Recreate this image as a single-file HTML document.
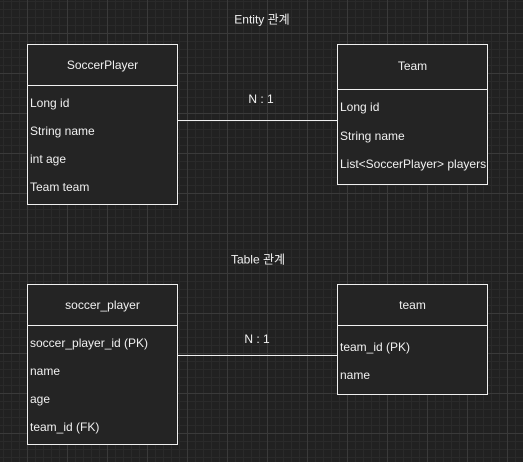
<!DOCTYPE html>
<html><head><meta charset="utf-8"><style>
html,body{margin:0;padding:0}
body{width:523px;height:462px;overflow:hidden;position:relative;background-color:#212121;
background-image:
linear-gradient(#3a3a3a 1px,transparent 1px),
linear-gradient(90deg,#3a3a3a 1px,transparent 1px),
linear-gradient(#2a2a2a 1px,transparent 1px),
linear-gradient(90deg,#2a2a2a 1px,transparent 1px);
background-size:40px 40px,40px 40px,8px 8px,8px 8px;
background-position:27px 33px,27px 33px,3px 1px,3px 1px;
font-family:"Liberation Sans","Noto Sans CJK KR",sans-serif;font-size:12px;color:#f0f0f0}
.box{position:absolute;background:#242424;border:1px solid #f0f0f0;box-sizing:border-box}
.hd{position:absolute;left:0;right:0;top:0;border-bottom:1px solid #f0f0f0;text-align:center}
.f{position:absolute;left:2px;white-space:nowrap}
.t{position:absolute;white-space:nowrap;transform:translate(-50%,-50%)}
.ln{position:absolute;height:1px;background:#f0f0f0}
</style></head><body>
<div class="t" style="left:262px;top:19px">Entity 관계</div>
<div class="t" style="left:258px;top:259px">Table 관계</div>

<div class="ln" style="left:177px;width:160px;top:120px"></div>
<div class="t" style="left:261px;top:99px">N : 1</div>
<div class="ln" style="left:177px;width:160px;top:355px"></div>
<div class="t" style="left:257px;top:339px">N : 1</div>

<div class="box" style="left:27px;top:44px;width:151px;height:161px">
<div class="hd" style="height:40px;line-height:40px">SoccerPlayer</div>
<div class="f" style="top:51px">Long id</div>
<div class="f" style="top:79px">String name</div>
<div class="f" style="top:107px">int age</div>
<div class="f" style="top:135px">Team team</div>
</div>
<div class="box" style="left:337px;top:44px;width:151px;height:141px">
<div class="hd" style="height:44px;line-height:42px">Team</div>
<div class="f" style="top:55px">Long id</div>
<div class="f" style="top:84px">String name</div>
<div class="f" style="top:112px">List&lt;SoccerPlayer&gt; players</div>
</div>

<div class="box" style="left:27px;top:284px;width:151px;height:161px">
<div class="hd" style="height:40px;line-height:40px">soccer_player</div>
<div class="f" style="top:51px">soccer_player_id (PK)</div>
<div class="f" style="top:79px">name</div>
<div class="f" style="top:107px">age</div>
<div class="f" style="top:135px">team_id (FK)</div>
</div>
<div class="box" style="left:337px;top:284px;width:151px;height:111px">
<div class="hd" style="height:40px;line-height:40px">team</div>
<div class="f" style="top:55px">team_id (PK)</div>
<div class="f" style="top:83px">name</div>
</div>
</body></html>
